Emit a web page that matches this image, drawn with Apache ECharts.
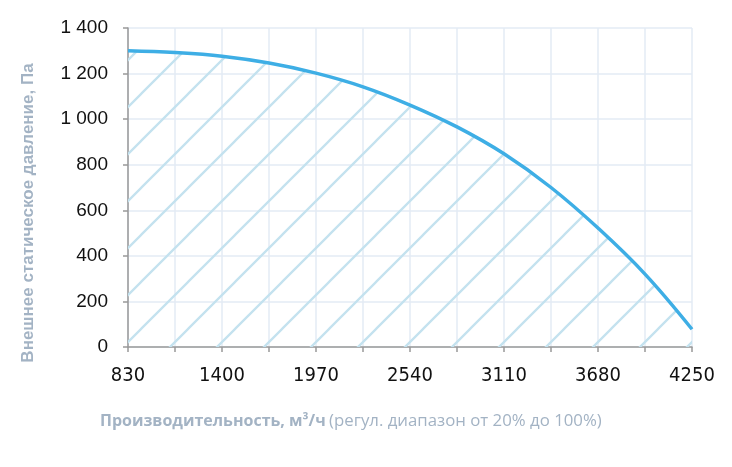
<!DOCTYPE html>
<html>
<head>
<meta charset="utf-8">
<script src="https://cdn.jsdelivr.net/npm/echarts@6/dist/echarts.min.js"></script>
<style>
html, body { margin: 0; padding: 0; background: #fff; }
#Echarts { width: 732px; height: 467px; }
</style>
</head>
<body>
<div id="Echarts"></div>
<script>
// данные кривой вентилятора
var xStart = 830;
var xEnd = 4250;
var xStep = 285;
var flow = [830, 1115, 1400, 1685, 1970, 2255, 2540, 2825, 3110, 3395, 3680, 3965, 4250];
var pressure = [1300, 1292, 1276, 1246, 1202, 1142, 1062, 966, 848, 700, 522, 320, 78];
var yTicks = [0, 200, 400, 600, 800, 1000, 1200, 1400];

// штриховка под кривой
var hatch = document.createElement('canvas');
hatch.width = 47;
hatch.height = 47;
var hc = hatch.getContext('2d');
hc.strokeStyle = '#c4e2ef';
hc.lineWidth = 2.3;
hc.beginPath();
hc.moveTo(-2, 49); hc.lineTo(49, -2);
hc.moveTo(-49, 49); hc.lineTo(2, -2);
hc.moveTo(45, 49); hc.lineTo(96, -2);
hc.stroke();

var myChart = echarts.init(document.getElementById('Echarts'));

// ось X смещена на xStart, чтобы деления шли от 830
var seriesData = flow.map(function (f, i) { return [f - xStart, pressure[i]]; });

var option = {
    animation: false,
    grid: { left: 128, right: 40, top: 28, bottom: 120 },
    xAxis: {
        type: 'value',
        min: 0,
        max: xEnd - xStart,
        interval: xStep,
        axisLine: { lineStyle: { color: '#999', width: 1.5 } },
        axisTick: { length: 5, lineStyle: { color: '#999', width: 1.5 } },
        axisLabel: {
            margin: 19,
            color: '#111',
            fontFamily: '"DejaVu Sans Condensed", "Liberation Sans"',
            fontSize: 20,
            formatter: function (v) {
                return (Math.round(v / xStep) % 2 === 0) ? String(v + xStart) : '';
            }
        },
        splitLine: { show: true, lineStyle: { color: '#e3ebf5', width: 1.5 } }
    },
    yAxis: {
        type: 'value',
        min: yTicks[0],
        max: yTicks[yTicks.length - 1],
        interval: 200,
        axisLine: { show: true, lineStyle: { color: '#999', width: 1.5 } },
        axisTick: { show: true, length: 5, lineStyle: { color: '#999', width: 1.5 } },
        axisLabel: {
            margin: 20,
            color: '#111',
            fontFamily: 'Liberation Sans',
            fontSize: 19,
            formatter: function (v) {
                return String(v).replace(/\B(?=(\d{3})+(?!\d))/g, ' ');
            }
        },
        splitLine: { show: true, lineStyle: { color: '#e3ebf5', width: 1.5 } }
    },
    graphic: [
        {
            type: 'text',
            x: 28,
            y: 213,
            rotation: Math.PI / 2,
            style: {
                text: 'Внешнее статическое давление, Па',
                fill: '#a3b3c4',
                font: 'bold 17px "Liberation Sans"',
                align: 'center',
                verticalAlign: 'middle'
            }
        },
        {
            type: 'text',
            left: 100,
            top: 413,
            style: {
                text: '{b|Производительность, м³/ч} {n|(регул. диапазон от 20% до 100%)}',
                rich: {
                    b: { fill: '#a3b3c4', font: 'bold 16px "Open Sans"' },
                    n: { fill: '#a3b3c4', font: '16.8px "Open Sans"' }
                }
            }
        }
    ],
    series: [
        {
            type: 'line',
            data: seriesData,
            smooth: 0.4,
            symbol: 'none',
            lineStyle: { color: '#3eaee5', width: 3.5 },
            areaStyle: {
                color: { image: hatch, repeat: 'repeat' },
                opacity: 1
            }
        }
    ]
};

myChart.setOption(option);
</script>
</body>
</html>
